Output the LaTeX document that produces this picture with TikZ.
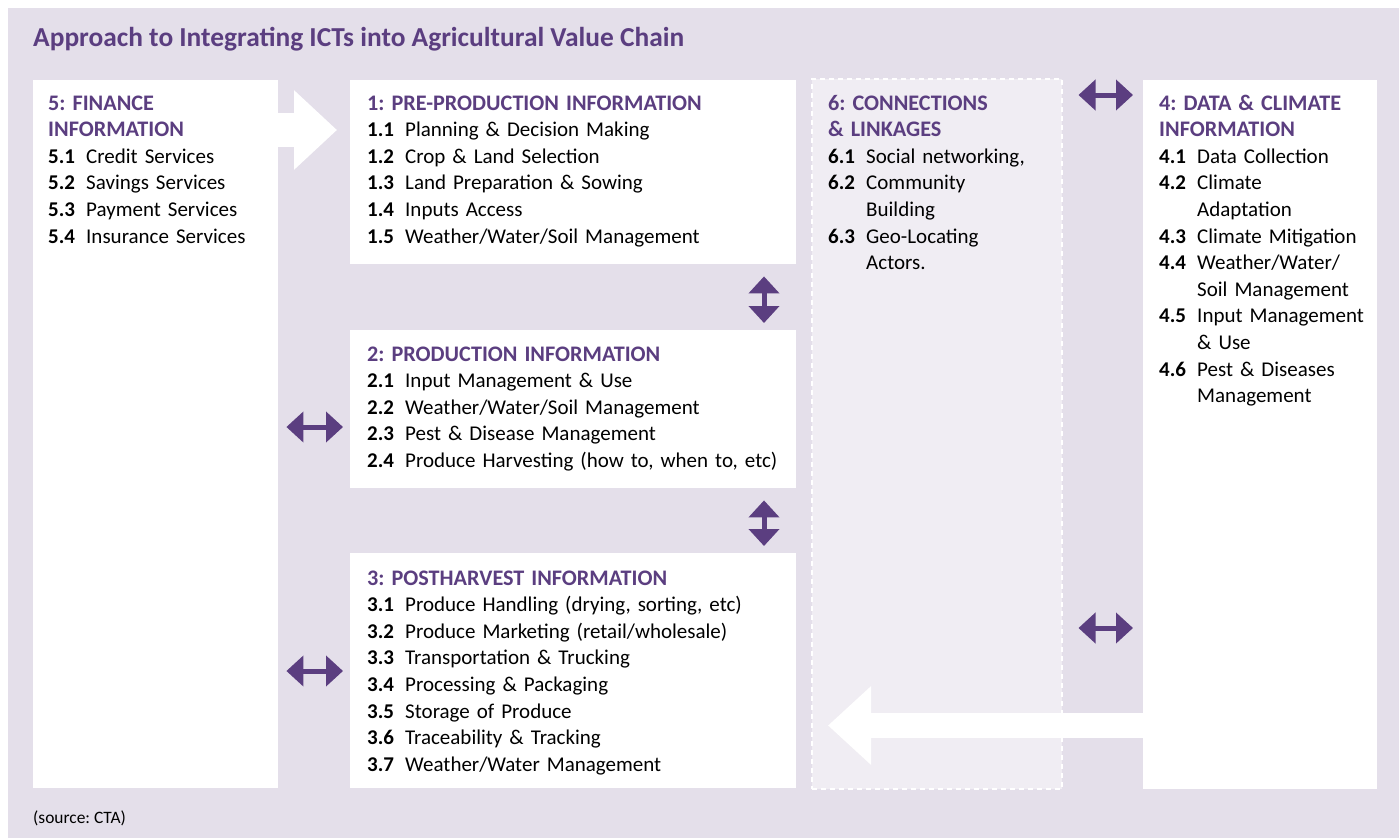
\documentclass[tikz,border=0pt]{standalone}
\usepackage{fontspec}
\setmainfont{Carlito}
\usetikzlibrary{arrows.meta,positioning}
\definecolor{bglav}{HTML}{E4DFEA}
\definecolor{ictpurple}{HTML}{5B3E80}
\definecolor{connfill}{HTML}{F0EDF3}
\tikzset{
  infobox/.style = {rectangle, fill=white, anchor=north west, inner sep=0},
  linkbox/.style = {infobox, fill=connfill, draw=white, line width=1.5pt, dash pattern=on 5pt off 4pt},
  boxtext/.style = {anchor=base west, inner sep=0, align=left, text width=#1,
    font=\frenchspacing\fontsize{21}{26.6}\selectfont},
  twoway/.style  = {draw=ictpurple, line width=5pt,
    {Triangle[width=30pt,length=17pt]}-{Triangle[width=30pt,length=17pt]}},
  bigflow/.style = {draw=white, -{Triangle[width=#1,length=43pt]}}
}
\newcommand\itm[1]{\makebox[38pt][l]{\bfseries #1}}
\newcommand\cnt{\hspace*{38pt}}
\newcommand\hd[1]{\textcolor{ictpurple}{\fontsize{22.2}{26.6}\selectfont\bfseries #1}}

\begin{document}
\begin{tikzpicture}[x=1pt,y=-1pt]
\useasboundingbox (0,0) rectangle (1399,838);
\fill[bglav] (8,8) rectangle (1399,838);

% title and source
\node[anchor=base west, inner sep=0, text=ictpurple, font=\fontsize{27.4}{30}\selectfont\bfseries] (title) at (33,46)
  {Approach to Integrating ICTs into Agricultural Value Chain};
\node[anchor=base west, inner sep=0, font=\frenchspacing\fontsize{17.4}{20}\selectfont] (source) at (33,823) {(source: CTA)};

% the boxes
\node[infobox, minimum width=245pt, minimum height=708pt] (finance) at (33,80) {};
\node[infobox, minimum width=446pt, minimum height=184pt] (preprod) at (350,80) {};
\node[infobox, minimum width=446pt, minimum height=158pt] (prod) at (350,330) {};
\node[infobox, minimum width=446pt, minimum height=235pt] (postharv) at (350,553) {};
\node[linkbox, minimum width=250pt, minimum height=710pt] (links) at (811,78) {};
\node[infobox, minimum width=234pt, minimum height=709pt] (climate) at (1143,80) {};

% texts of the boxes
\node[boxtext=225pt] (finance text) at (48,110) {\hd{5: FINANCE}\\ \hd{INFORMATION}\\
  \itm{5.1}Credit Services\\
  \itm{5.2}Savings Services\\
  \itm{5.3}Payment Services\\
  \itm{5.4}Insurance Services};
\node[boxtext=425pt] (preprod text) at (367,110) {\hd{1: PRE-PRODUCTION INFORMATION}\\
  \itm{1.1}Planning \& Decision Making\\
  \itm{1.2}Crop \& Land Selection\\
  \itm{1.3}Land Preparation \& Sowing\\
  \itm{1.4}Inputs Access\\
  \itm{1.5}Weather/Water/Soil Management};
\node[boxtext=425pt] (prod text) at (367,361) {\hd{2: PRODUCTION INFORMATION}\\
  \itm{2.1}Input Management \& Use\\
  \itm{2.2}Weather/Water/Soil Management\\
  \itm{2.3}Pest \& Disease Management\\
  \itm{2.4}Produce Harvesting (how to, when to, etc)};
\node[boxtext=425pt] (postharv text) at (367,585) {\hd{3: POSTHARVEST INFORMATION}\\
  \itm{3.1}Produce Handling (drying, sorting, etc)\\
  \itm{3.2}Produce Marketing (retail/wholesale)\\
  \itm{3.3}Transportation \& Trucking\\
  \itm{3.4}Processing \& Packaging\\
  \itm{3.5}Storage of Produce\\
  \itm{3.6}Traceability \& Tracking\\
  \itm{3.7}Weather/Water Management};
\node[boxtext=230pt] (links text) at (828,110) {\hd{6: CONNECTIONS}\\ \hd{\& LINKAGES}\\
  \itm{6.1}Social networking,\\
  \itm{6.2}Community\\ \cnt Building\\
  \itm{6.3}Geo-Locating\\ \cnt Actors.};
\node[boxtext=230pt] (climate text) at (1159,110) {\hd{4: DATA \& CLIMATE}\\ \hd{INFORMATION}\\
  \itm{4.1}Data Collection\\
  \itm{4.2}Climate\\ \cnt Adaptation\\
  \itm{4.3}Climate Mitigation\\
  \itm{4.4}Weather/Water/\\ \cnt Soil Management\\
  \itm{4.5}Input Management\\ \cnt \& Use\\
  \itm{4.6}Pest \& Diseases\\ \cnt Management};

% big white arrows
\draw[bigflow=77pt, line width=34pt, shorten >=13pt] (finance.east |- 0,130) -- (preprod.west |- 0,130);
\draw[bigflow=76pt, line width=25pt, shorten >=17pt] (climate.west |- 0,725.5) -- (links.west |- 0,725.5);

% purple two-way arrows
\draw[twoway, shorten <=12pt, shorten >=7pt] (preprod.south -| 764,0) -- (prod.north -| 764,0);
\draw[twoway, shorten <=12pt, shorten >=7pt] (prod.south -| 764,0) -- (postharv.north -| 764,0);
\draw[twoway, shorten <=8pt, shorten >=7pt] (finance.east |- 0,427) -- (prod.west |- 0,427);
\draw[twoway, shorten <=8pt, shorten >=7pt] (finance.east |- 0,671) -- (postharv.west |- 0,671);
\draw[twoway, shorten <=16pt, shorten >=10pt] (links.east |- 0,95) -- (climate.west |- 0,95);
\draw[twoway, shorten <=16pt, shorten >=10pt] (links.east |- 0,628) -- (climate.west |- 0,628);
\end{tikzpicture}
\end{document}
